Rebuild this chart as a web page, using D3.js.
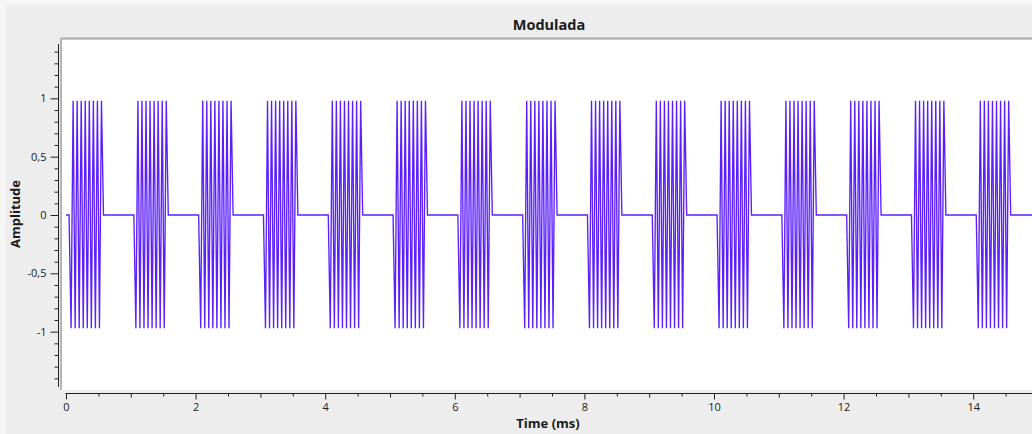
<!DOCTYPE html>
<html>
<head>
<meta charset="utf-8">
<script src="https://cdn.jsdelivr.net/npm/d3@7"></script>
<style>
  html, body { margin: 0; padding: 0; background: #f6f6f6; }
  svg { display: block; }
  text { font-family: "Open Sans", "Noto Sans", sans-serif; fill: #1a1a1a; }
</style>
</head>
<body>
<svg id="chart" width="1032" height="434"></svg>
<script>
// ---------------- data ----------------
const title = "Modulada";
const xLabel = "Time (ms)";
const yLabel = "Amplitude";
// OOK message bits, one per 0.5 ms
const bits = [1,0,1,0,1,0,1,0,1,0,1,0,1,0,1,0,1,0,1,0,1,0,1,0,1,0,1,0,1,0];
// carrier samples during one "1" bit (16 samples)
const carrier = [-0.97, 0.98, -0.97, 0.98, -0.97, 0.98, -0.97, 0.98,
                 -0.97, 0.98, -0.97, 0.98, -0.97, 0.98, -0.97, 0.98];
const samplesPerMs = 32;
const delaySamples = 2;
const startOffsetMs = 0.016;
const xDomain = [0, 15];
const yDomain = [-1.5, 1.5];
const xTickValues = [0, 2, 4, 6, 8, 10, 12, 14];
const xTickLabels = ["0", "2", "4", "6", "8", "10", "12", "14"];
const yTickValues = [1, 0.5, 0, -0.5, -1];
const yTickLabels = ["1", "0,5", "0", "-0,5", "-1"];

// build sample sequence from bits + carrier
const samples = [0];
for (let i = 0; i < delaySamples; i++) samples.push(0);
bits.forEach(b => {
  carrier.forEach(v => samples.push(b ? v : 0));
});
const data = samples.map((v, i) => ({ t: i === 0 ? 0 : (i - 1) / samplesPerMs + startOffsetMs, v }));

// ---------------- layout ----------------
const svg = d3.select("#chart");
const W = 1032, H = 434;
const canvas = { x0: 62, y0: 40, x1: 1032, y1: 390 };

svg.append("rect").attr("x", 6).attr("y", 5).attr("width", W - 6).attr("height", H - 5).attr("fill", "#ededed");

// canvas
svg.append("rect").attr("x", canvas.x0).attr("y", canvas.y0)
  .attr("width", canvas.x1 - canvas.x0).attr("height", canvas.y1 - canvas.y0).attr("fill", "#ffffff");
// sunken frame lines
svg.append("line").attr("x1", canvas.x0 - 1).attr("x2", W).attr("y1", canvas.y0 - 1.5).attr("y2", canvas.y0 - 1.5)
  .attr("stroke", "#a9a9a9").attr("stroke-width", 2);
svg.append("line").attr("x1", canvas.x0 - 1).attr("x2", canvas.x0 - 1).attr("y1", canvas.y0 - 2).attr("y2", canvas.y1)
  .attr("stroke", "#b4b4b4").attr("stroke-width", 2);

const x = d3.scaleLinear().domain(xDomain).range([66, 1038]);
const y = d3.scaleLinear().domain(yDomain).range([390, 40]);

// clip
svg.append("clipPath").attr("id", "clip").append("rect")
  .attr("x", canvas.x0).attr("y", canvas.y0)
  .attr("width", canvas.x1 - canvas.x0).attr("height", canvas.y1 - canvas.y0);

const line = d3.line().x(d => x(d.t)).y(d => y(d.v));
svg.append("path").datum(data)
  .attr("clip-path", "url(#clip)")
  .attr("fill", "none").attr("stroke", "#5a1eff").attr("stroke-width", 1.35)
  .attr("d", line);

// ---------------- Y axis ----------------
const yAxisX = 58.5;
const yMinor = d3.range(-14, 15).map(d => d / 10).filter(v => Math.abs(Math.round(v * 2) - v * 2) > 1e-6);
const gyMinor = svg.append("g").attr("transform", `translate(${yAxisX},0)`)
  .call(d3.axisLeft(y).tickValues(yMinor).tickSize(4).tickFormat(""));
const gy = svg.append("g").attr("transform", `translate(${yAxisX},0)`)
  .call(d3.axisLeft(y).tickValues(yTickValues).tickSize(8).tickPadding(4)
    .tickFormat((d, i) => yTickLabels[i]));
[gy, gyMinor].forEach(g => {
  g.select(".domain").remove();
  g.selectAll("line").attr("stroke", "#222");
});
gy.selectAll("text").attr("font-size", 11).attr("fill", "#222");
svg.append("line").attr("x1", yAxisX).attr("x2", yAxisX).attr("y1", 44).attr("y2", 387)
  .attr("stroke", "#222").attr("stroke-width", 1);

// ---------------- X axis ----------------
const xAxisY = 393.5;
const xHalf = d3.range(0, 31).map(d => d / 2).filter(v => v % 1 !== 0);
const xOdd = d3.range(1, 15, 2);
const gxMinor = svg.append("g").attr("transform", `translate(0,${xAxisY})`)
  .call(d3.axisBottom(x).tickValues(xHalf).tickSize(3).tickFormat(""));
const gxMed = svg.append("g").attr("transform", `translate(0,${xAxisY})`)
  .call(d3.axisBottom(x).tickValues(xOdd).tickSize(4).tickFormat(""));
const gx = svg.append("g").attr("transform", `translate(0,${xAxisY})`)
  .call(d3.axisBottom(x).tickValues(xTickValues).tickSize(6).tickPadding(4)
    .tickFormat((d, i) => xTickLabels[i]));
[gx, gxMed, gxMinor].forEach(g => {
  g.select(".domain").remove();
  g.selectAll("line").attr("stroke", "#222");
});
gx.selectAll("text").attr("font-size", 11).attr("fill", "#222");
svg.append("line").attr("x1", 65.5).attr("x2", W).attr("y1", xAxisY).attr("y2", xAxisY)
  .attr("stroke", "#222").attr("stroke-width", 1);

// ---------------- titles ----------------
svg.append("text").attr("x", 549).attr("y", 30).attr("text-anchor", "middle")
  .attr("font-size", 14.5).attr("font-weight", "bold").text(title);
svg.append("text").attr("x", 548).attr("y", 428).attr("text-anchor", "middle")
  .attr("font-size", 13).attr("font-weight", "bold").text(xLabel);
svg.append("text").attr("transform", "translate(20,214) rotate(-90)").attr("text-anchor", "middle")
  .attr("font-size", 13).attr("font-weight", "bold").text(yLabel);
</script>
</body>
</html>
